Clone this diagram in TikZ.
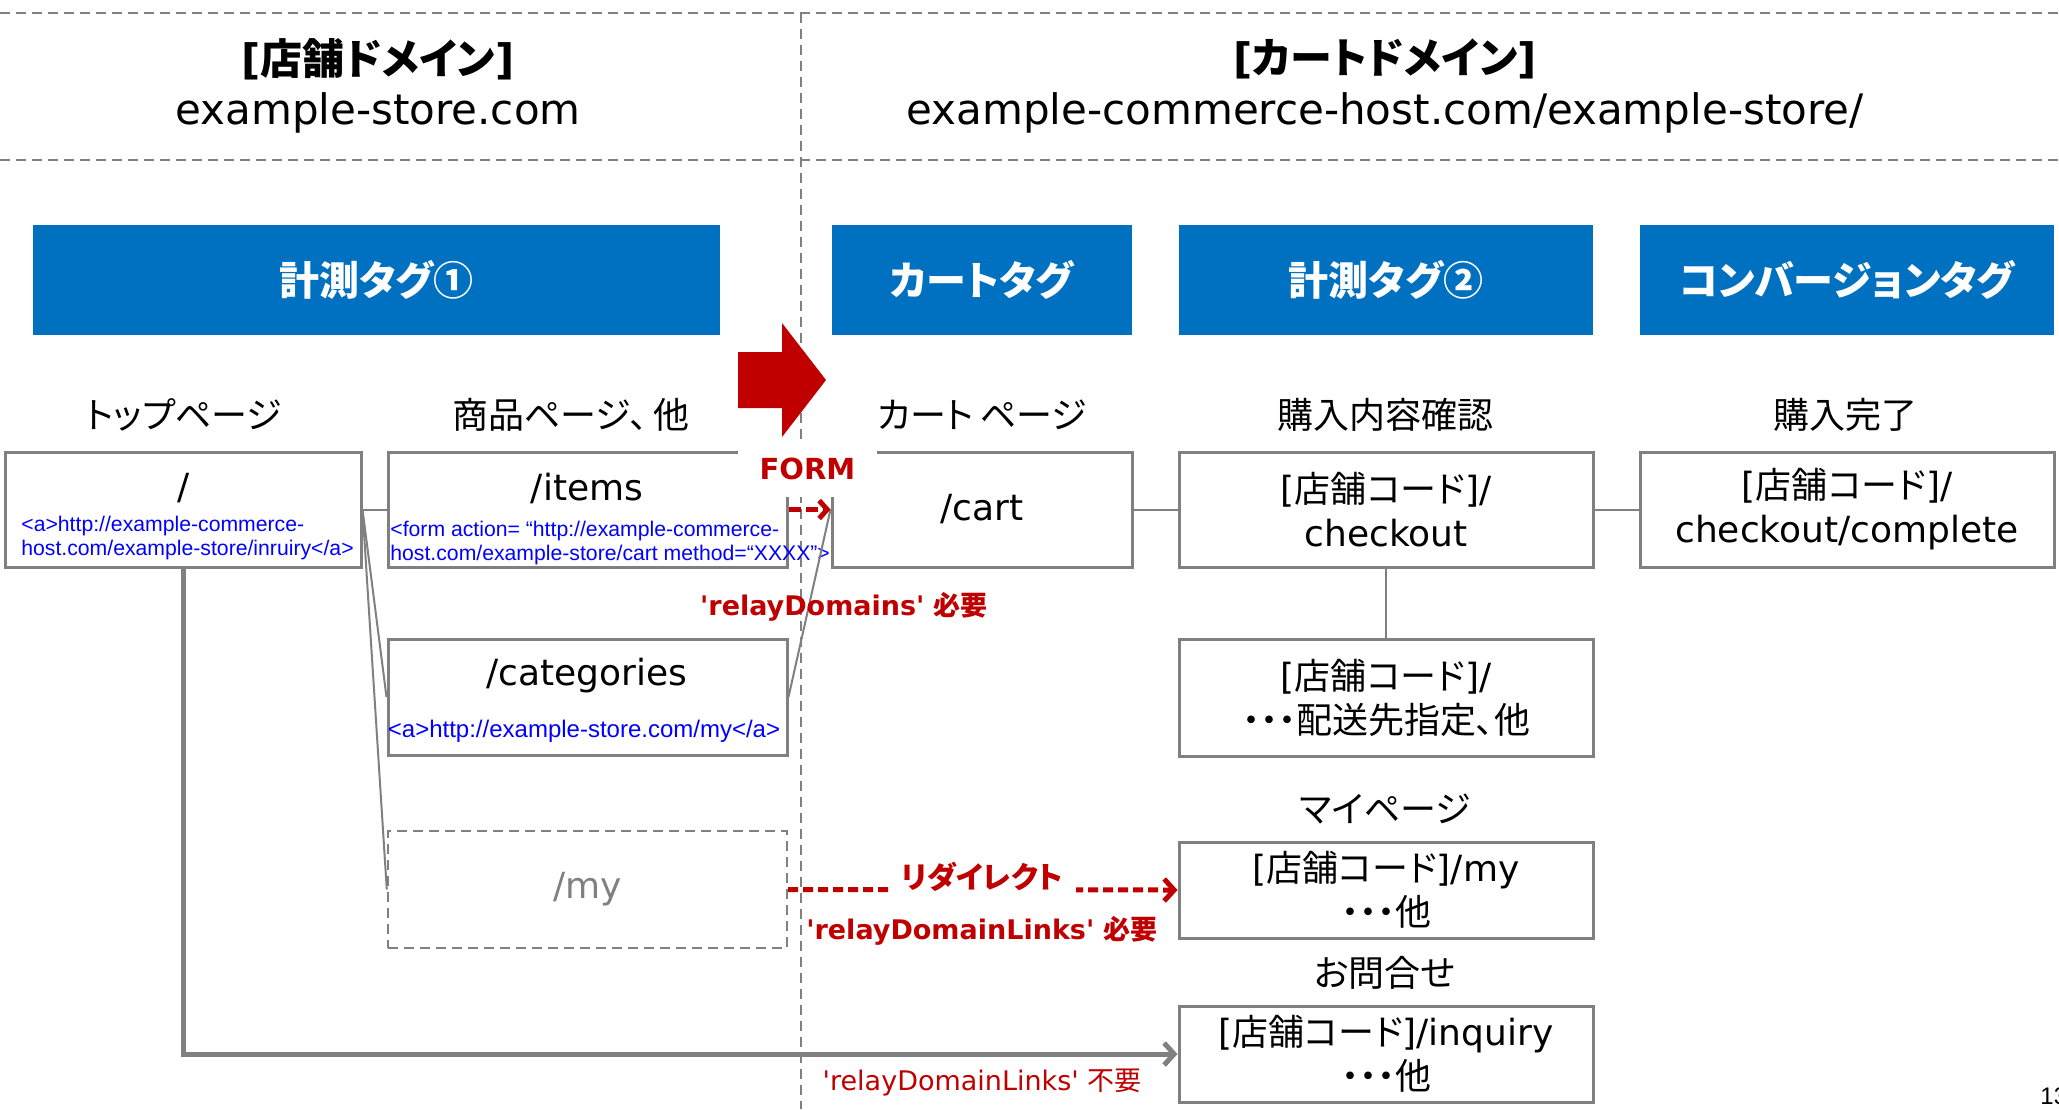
\documentclass[tikz,border=0pt]{standalone}
\usepackage{fontspec}
\setmainfont{DejaVu Sans}[Ligatures=TeXOff]
\newfontfamily\jp{Noto Sans CJK JP}[RawFeature=+palt]
\newfontfamily\codefont{Liberation Sans}
\usetikzlibrary{arrows.meta}
\definecolor{tagblue}{HTML}{0070C0}
\definecolor{lgray}{HTML}{808080}
\definecolor{dred}{HTML}{C00000}
\begin{document}
\begin{tikzpicture}[x=0.5pt, y=-0.5pt,
  pagebox/.style={draw=lgray, line width=1.5pt, inner sep=0pt, minimum height=57.5pt},
  dashbox/.style={draw=lgray, line width=1.2pt, dash pattern=on 5pt off 3pt, inner sep=0pt},
  divider/.style={draw=lgray, line width=1pt, dash pattern=on 5pt off 3pt},
  big/.style={font=\fontsize{18}{22}\selectfont, align=center},
  code/.style={text=blue, font=\codefont\fontsize{12}{12}\selectfont, inner sep=0pt, align=left},
  smallcode/.style={code, font=\codefont\fontsize{10.6}{12}\selectfont},
  tagbox/.style={fill=tagblue, text=white, font=\jp\bfseries\fontsize{20}{24}\selectfont, minimum height=55pt, inner sep=0pt},
  lbl/.style={font=\jp\fontsize{18}{22}\selectfont, inner sep=0pt},
  head/.style={font=\fontsize{21}{25}\selectfont, inner sep=0pt},
  conn/.style={draw=lgray, line width=1pt},
  thickarrow/.style={draw=lgray, line width=2.5pt, -{Straight Barb[length=5pt,width=11pt]}},
  reddashed/.style={draw=dred, line width=2.5pt, dash pattern=on 6pt off 2.5pt},
  redlbl/.style={text=dred, font=\bfseries\fontsize{13.5}{16}\selectfont, inner sep=0pt},
]
\useasboundingbox (0,0) rectangle (2059,1109);
\fill[white] (0,0) rectangle (2059,1109);

% dividers
\coordinate (dl1) at (0,13);
\coordinate (dr1) at (2059,13);
\coordinate (dl2) at (0,160);
\coordinate (dr2) at (2059,160);
\coordinate (vt) at (801,13);
\coordinate (vb) at (801,1109);
\draw[divider] (dl1) -- (dr1);
\draw[divider] (dl2) -- (dr2);
\draw[divider] (vt) -- (vb);

% headers
\node[head, font=\bfseries\fontsize{21}{25}\selectfont] (h1a) at (378,59) {[{\jp 店舗ドメイン}]};
\node[head] (h1b) at (378,113) {example-store.com};
\node[head, font=\bfseries\fontsize{21}{25}\selectfont] (h2a) at (1385,59) {[{\jp カートドメイン}]};
\node[head] (h2b) at (1385,113) {example-commerce-host.com/example-store/};

% tags
\node[tagbox, minimum width=343.5pt] (t1) at (376.5,280) {計測タグ①};
\node[tagbox, minimum width=150pt] (t2) at (982,280) {カートタグ};
\node[tagbox, minimum width=207pt] (t3) at (1386,280) {計測タグ②};
\node[tagbox, minimum width=207pt] (t4) at (1847,280) {コンバージョンタグ};

% page labels
\node[lbl] (l1) at (184,415) {トップページ};
\node[lbl] (l2) at (571,415) {商品ページ、\,他};
\node[lbl] (l3) at (982,415) {カート\,ページ};
\node[lbl] (l4) at (1385,415) {購入内容確認};
\node[lbl] (l5) at (1845,415) {購入完了};
\node[lbl] (l6) at (1385,809) {マイページ};
\node[lbl] (l7) at (1385,973) {お問合せ};

% boxes
\node[pagebox, minimum width=178pt] (root) at (183,509.5) {};
\node[big, inner sep=0pt] (rootpath) at (184,488) {/};
\node[smallcode, anchor=west] (rootcode) at (21,538) {<a>http://example-commerce-\\host.com/example-store/inruiry</a>};

\node[pagebox, minimum width=199.5pt] (items) at (587.5,509.5) {};
\node[big, inner sep=0pt] (itemspath) at (587,488) {/items};
\node[smallcode, anchor=west] (itemscode) at (390,543) {<form action= “http://example-commerce-\\host.com/example-store/cart method=“XXXX”>};

\node[pagebox, big, minimum width=150pt] (cart) at (982,509.5) {/cart};
\node[pagebox, big, minimum width=207pt] (checkout) at (1386,509.5) {[{\jp 店舗コード}]/\\checkout};
\node[pagebox, big, minimum width=207pt] (complete) at (1847,509.5) {[{\jp 店舗コード}]/\\checkout/complete};

\node[pagebox, minimum width=199.5pt, minimum height=58pt] (cat) at (587.5,697) {};
\node[big, inner sep=0pt] (catpath) at (587,676) {/categories};
\node[code] (catcode) at (584,731) {<a>http://example-store.com/my</a>};

\node[pagebox, big, minimum width=207pt, minimum height=58.5pt] (ship) at (1386,697.5) {[{\jp 店舗コード}]/\\{\jp ・・・配送先指定、他}};

\node[dashbox, big, text=lgray, minimum width=199.5pt, minimum height=58.5pt] (mybox) at (587.5,889.5) {/my};

\node[pagebox, big, minimum width=207pt, minimum height=48pt] (mypage) at (1386,890) {[{\jp 店舗コード}]/my\\{\jp ・・・他}};
\node[pagebox, big, minimum width=207pt, minimum height=48pt] (inquiry) at (1386,1054) {[{\jp 店舗コード}]/inquiry\\{\jp ・・・他}};

% connectors
\draw[conn] (root.east) -- (items.west);
\draw[conn] (root.east) -- (cat.west);
\draw[conn] (root.east) -- (mybox.west);
\draw[conn] (cat.east) -- (cart.west);
\draw[conn] (cart.east) -- (checkout.west);
\draw[conn] (checkout.east) -- (complete.west);
\draw[conn] (checkout.south) -- (ship.north);
\draw[thickarrow] (root.south) |- (inquiry.west);

% FORM
\node[fill=white, text=dred, font=\bfseries\fontsize{14.5}{16}\selectfont, minimum width=69.5pt, minimum height=28.5pt, inner sep=0pt] (form) at (807.5,468.5) {FORM};
\fill[dred] (738,352) -- (782,352) -- (782,323) -- (826,380) -- (782,437) -- (782,408) -- (738,408) -- cycle;
\draw[reddashed, -{Straight Barb[length=4pt,width=9pt]}] (items.east) -- (cart.west);

% red labels and redirect
\node[redlbl] (rd) at (844,607) {'relayDomains' {\jp 必要}};
\draw[reddashed, dash pattern=on 5pt off 2.5pt, -{Straight Barb[length=5pt,width=11pt]}] (mybox.east) -- (mypage.west);
\node[fill=white, text=dred, font=\jp\bfseries\fontsize{15}{18}\selectfont, minimum width=93.5pt, minimum height=20pt, inner sep=0pt] (redir) at (982,877) {リダイレクト};
\node[redlbl] (rdl) at (982,931) {'relayDomainLinks' {\jp 必要}};
\node[redlbl, font=\fontsize{13.5}{16}\selectfont] (rdn) at (982,1083) {'relayDomainLinks' {\jp 不要}};

\node[font=\codefont\fontsize{12}{14}\selectfont, anchor=west, inner sep=0pt] (pg) at (2040,1096) {13};
\end{tikzpicture}
\end{document}
